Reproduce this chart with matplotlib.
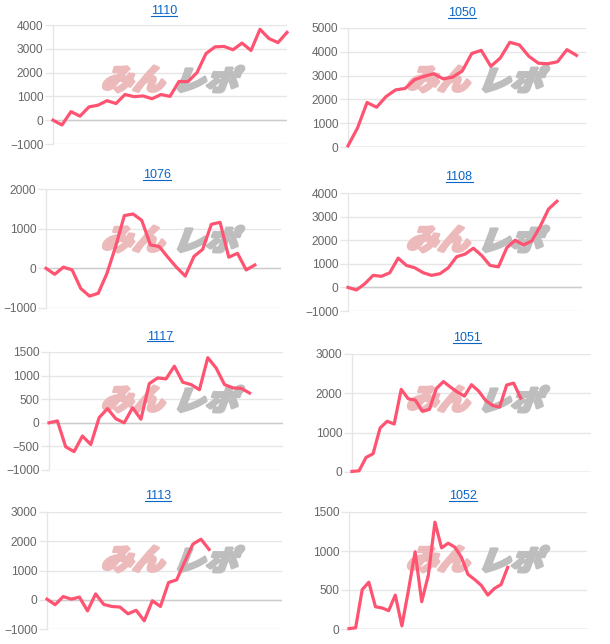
import matplotlib
matplotlib.use("Agg")
import matplotlib.pyplot as plt
from matplotlib.textpath import TextPath
from matplotlib.patches import PathPatch
from matplotlib.font_manager import FontProperties
from matplotlib.transforms import Affine2D
from matplotlib.lines import Line2D
import numpy as np

plt.rcParams['font.family'] = ['Liberation Sans', 'DejaVu Sans']

W, H = 610, 644

titles = ["1110", "1050", "1076", "1108", "1117", "1051", "1113", "1052"]

s1110 = [0, -200, 360, 170, 560, 630, 820, 700, 1080, 990, 1020, 900, 1080, 1000,
         1630, 1620, 2000, 2800, 3080, 3100, 2960, 3240, 2930, 3820, 3430, 3260, 3690]
s1050 = [50, 800, 1870, 1670, 2120, 2400, 2460, 2830, 2970, 3080, 2860, 2940, 3190,
         3930, 4060, 3390, 3740, 4400, 4290, 3810, 3520, 3500, 3580, 4090, 3850]
s1076 = [0, -150, 30, -40, -510, -700, -630, -130, 550, 1330, 1370, 1210, 590, 550,
         280, 25, -195, 300, 480, 1110, 1160, 280, 380, -40, 85]
s1108 = [0, -110, 150, 510, 470, 620, 1240, 930, 830, 620, 510, 580, 830, 1300, 1410,
         1660, 1350, 930, 870, 1680, 2000, 1800, 1970, 2590, 3320, 3650]
s1117 = [0, 40, -510, -610, -280, -460, 110, 300, 85, 0, 320, 75, 830, 950, 930, 1200,
         860, 810, 700, 1380, 1160, 810, 740, 730, 630]
s1051 = [15, 30, 370, 465, 1120, 1290, 1220, 2100, 1860, 1830, 1550, 1590, 2120, 2300,
         2160, 2030, 1930, 2220, 2060, 1820, 1690, 1650, 2210, 2260, 1880]
s1113 = [20, -170, 110, 20, 90, -380, 200, -160, -230, -250, -480, -360, -720, -35,
         -230, 590, 680, 1300, 1900, 2070, 1720]
s1052 = [5, 15, 505, 600, 285, 270, 235, 435, 40, 500, 990, 350, 690, 1370, 1040, 1100,
         1050, 920, 700, 635, 560, 435, 520, 570, 790]

series = [s1110, s1050, s1076, s1108, s1117, s1051, s1113, s1052]
x_slots = [26, 25, 27, 28, 28, 34, 29, 36]
y_ranges = [(-1000, 4000, 1000), (0, 5000, 1000), (-1000, 2000, 1000), (-1000, 4000, 1000),
            (-1000, 1500, 500), (0, 3000, 1000), (-1000, 3000, 1000), (0, 1500, 500)]

# plot-area boxes in pixels: x0, y_top, x1, y_bottom
boxes = [(53, 25, 287, 144), (348, 28, 586, 147),
         (46, 189, 281, 308), (348, 193, 582, 311),
         (49, 352, 283, 470), (352, 354, 591, 472),
         (47, 512, 282, 629), (349, 512, 587, 629)]
title_pos = [(164, 10), (462, 12.7), (157, 174), (459, 176.7),
             (160, 335.7), (467, 337.3), (158, 495), (463, 495)]

LINE = '#ff5372'
GRID = '#e6e6e6'
ZERO = '#cccccc'
LINK = '#0a66c8'

fig = plt.figure(figsize=(W / 100, H / 100), dpi=100)
fig.patch.set_facecolor('white')

fp_wm = FontProperties(family=['Noto Sans CJK JP'], weight='black')


def place_text_path(ax, s, box, color, skew=18):
    x0, yt, x1, yb = box
    path = TextPath((0, 0), s, size=100, prop=fp_wm)
    bb = path.get_extents()
    t = np.tan(np.radians(skew))
    new_w = bb.width + t * bb.height
    tr = (Affine2D().translate(-bb.x0, -bb.y0)
          .skew(np.radians(skew), 0)
          .scale((x1 - x0) / new_w, (yb - yt) / bb.height)
          .translate(x0, H - yb)
          .scale(1 / W, 1 / H)) + fig.transFigure
    p = PathPatch(path, facecolor=color, edgecolor=color, linewidth=2.2,
                  joinstyle='round', transform=tr, zorder=1.5, clip_on=False)
    ax.add_artist(p)


titles_artists = []
for i, (name, data) in enumerate(zip(titles, series)):
    x0, yt, x1, yb = boxes[i]
    ax = fig.add_axes([x0 / W, 1 - yb / H, (x1 - x0) / W, (yb - yt) / H])
    lo, hi, step = y_ranges[i]
    ax.set_ylim(lo, hi)
    ax.set_xlim(0, x_slots[i])
    ax.set_yticks(np.arange(lo, hi + 1, step))
    ax.set_xticks([])
    ax.grid(axis='y', color=GRID, linewidth=1, zorder=0)
    ax.set_axisbelow(True)
    for sp in ['top', 'right', 'bottom']:
        ax.spines[sp].set_visible(False)
    ax.spines['left'].set_color(GRID)
    ax.spines['left'].set_linewidth(1)
    ax.tick_params(axis='y', length=6, width=1, color=GRID, pad=1,
                   labelsize=8.6, labelcolor='#666666')
    ax.axhline(0, color=ZERO, linewidth=1, zorder=1)
    ax.set_facecolor('none')

    col = i % 2
    row = i // 2
    cl = col * 305
    ct = row * 160
    place_text_path(ax, "みん", (cl + 101, ct + 66, cl + 171, ct + 92), '#ecbaba')
    place_text_path(ax, "レポ", (cl + 177, ct + 66, cl + 245, ct + 92), '#bebebe')

    ax.plot(np.arange(len(data)), data, color=LINE, linewidth=2.3,
            solid_joinstyle='round', zorder=3, clip_on=False)

    tx, ty = title_pos[i]
    t = fig.text(tx / W, 1 - (ty + 3.8) / H, name, ha='center', va='baseline',
                 fontsize=9, color=LINK)
    titles_artists.append((t, ty))

fig.canvas.draw()
r = fig.canvas.get_renderer()
for t, ty in titles_artists:
    bb = t.get_window_extent(r)
    yline = 1 - (ty + 5.6) / H
    fig.add_artist(Line2D([bb.x0 / W, bb.x1 / W], [yline, yline],
                          transform=fig.transFigure, color=LINK, linewidth=0.8))

fig.savefig('out.png', dpi=100, facecolor='white')
